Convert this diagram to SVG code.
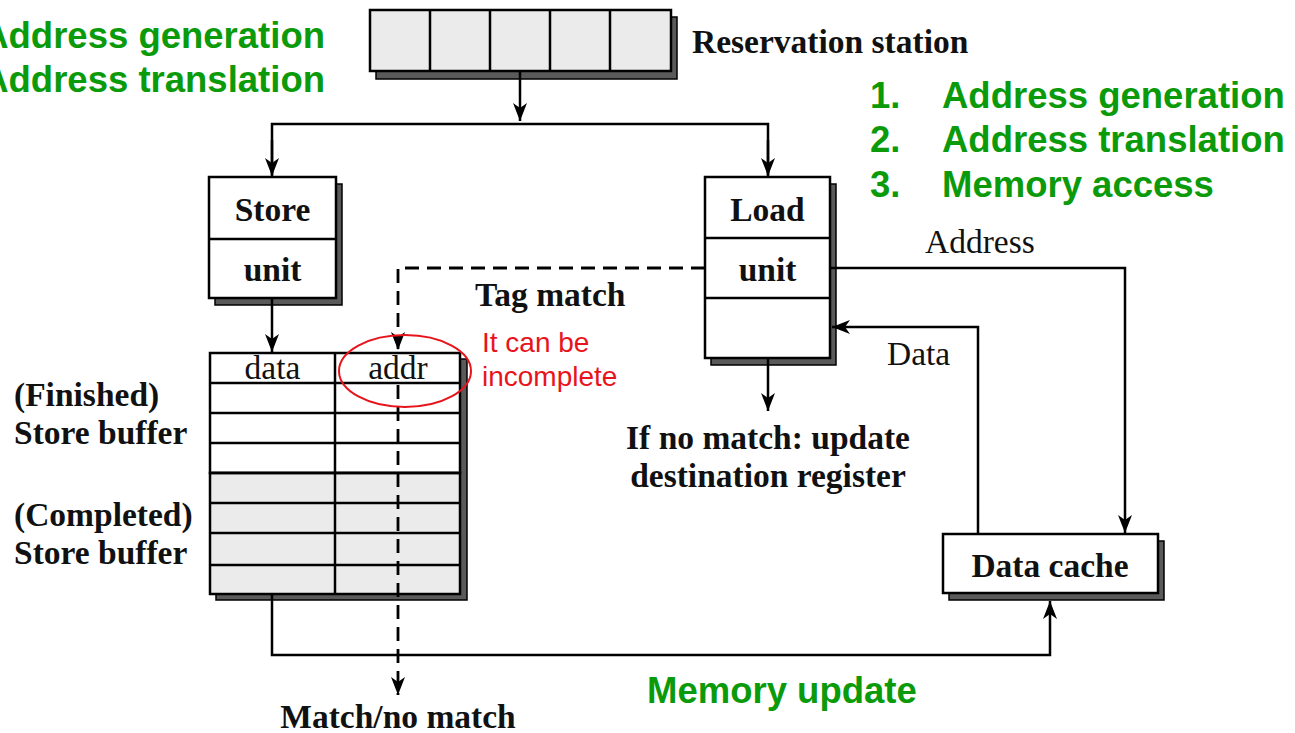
<svg xmlns="http://www.w3.org/2000/svg" width="1295" height="733" viewBox="0 0 1295 733">
<defs>
<marker id="ah" viewBox="0 0 18 14" markerUnits="userSpaceOnUse" markerWidth="18" markerHeight="14" refX="18" refY="7" orient="auto">
<path d="M0,0 L18,7 L0,14 L5,7 z" fill="#000"/>
</marker>
</defs>
<style>
.box{fill:#fff;stroke:#000;stroke-width:2.5}
.gbox{fill:#ebebeb;stroke:#000;stroke-width:2.5}
.sh{fill:#5a5a5a;stroke:#000;stroke-width:1.5}
.ln{fill:none;stroke:#000;stroke-width:2.5}
.dl{fill:none;stroke:#000;stroke-width:2.8;stroke-dasharray:14 8}
.sb{font-family:"Liberation Serif",serif;font-weight:bold;font-size:33.5px;fill:#111}
.sr{font-family:"Liberation Serif",serif;font-size:33.5px;fill:#111}
.gr{font-family:"Liberation Sans",sans-serif;font-weight:bold;font-size:36.5px;fill:#0a9a0a}
.rd{font-family:"Liberation Sans",sans-serif;font-size:28px;fill:#e8141c}
</style>

<g id="reservation-station">
<rect class="sh" x="376" y="17" width="301" height="62"/>
<rect class="gbox" x="370" y="10" width="301" height="61"/>
<line class="ln" x1="430" y1="10" x2="430" y2="71"/>
<line class="ln" x1="490" y1="10" x2="490" y2="71"/>
<line class="ln" x1="550" y1="10" x2="550" y2="71"/>
<line class="ln" x1="610" y1="10" x2="610" y2="71"/>
<text class="sb" x="692" y="53">Reservation station</text>
</g>

<g id="store-unit">
<rect class="sh" x="215" y="184" width="127" height="121"/>
<rect class="box" x="209" y="177" width="127" height="121"/>
<line class="ln" x1="209" y1="239" x2="336" y2="239"/>
<text class="sb" x="272.5" y="221" text-anchor="middle">Store</text>
<text class="sb" x="272.5" y="281" text-anchor="middle">unit</text>
</g>

<g id="load-unit">
<rect class="sh" x="711" y="184" width="125" height="181"/>
<rect class="box" x="705" y="177" width="125" height="181"/>
<line class="ln" x1="705" y1="238" x2="830" y2="238"/>
<line class="ln" x1="705" y1="298" x2="830" y2="298"/>
<text class="sb" x="767.5" y="221" text-anchor="middle">Load</text>
<text class="sb" x="767.5" y="281" text-anchor="middle">unit</text>
</g>

<g id="store-buffer">
<rect class="sh" x="216" y="359" width="251" height="241"/>
<rect class="box" x="210" y="353" width="250" height="120"/>
<rect class="gbox" x="210" y="473" width="250" height="121"/>
<line class="ln" x1="210" y1="383" x2="460" y2="383"/>
<line class="ln" x1="210" y1="413" x2="460" y2="413"/>
<line class="ln" x1="210" y1="443" x2="460" y2="443"/>
<line class="ln" x1="210" y1="473" x2="460" y2="473"/>
<line class="ln" x1="210" y1="503" x2="460" y2="503"/>
<line class="ln" x1="210" y1="533" x2="460" y2="533"/>
<line class="ln" x1="210" y1="565" x2="460" y2="565"/>
<line class="ln" x1="335" y1="353" x2="335" y2="594"/>
<text class="sr" x="272.5" y="379" text-anchor="middle">data</text>
<text class="sr" x="398" y="379" text-anchor="middle">addr</text>
<text class="sb" x="14" y="406">(Finished)</text>
<text class="sb" x="14" y="444">Store buffer</text>
<text class="sb" x="14" y="526">(Completed)</text>
<text class="sb" x="14" y="564">Store buffer</text>
</g>

<g id="data-cache">
<rect class="sh" x="949" y="541" width="215" height="59"/>
<rect class="box" x="943" y="534" width="215" height="59"/>
<text class="sb" x="1050" y="577" text-anchor="middle">Data cache</text>
</g>

<g id="connectors">
<line class="ln" x1="520" y1="71" x2="520" y2="121" marker-end="url(#ah)"/>
<path class="ln" d="M272,175 V124 H768 V175" />
<line class="ln" x1="272" y1="140" x2="272" y2="176" marker-end="url(#ah)"/>
<line class="ln" x1="768" y1="140" x2="768" y2="176" marker-end="url(#ah)"/>
<line class="ln" x1="272" y1="298" x2="272" y2="352" marker-end="url(#ah)"/>
<line class="ln" x1="768" y1="358" x2="768" y2="411" marker-end="url(#ah)"/>
<path class="dl" d="M705,268 H398 V350" marker-end="url(#ah)"/>
<path class="dl" d="M398,385 V695" marker-end="url(#ah)"/>
<path class="ln" d="M830,268 H1125 V533" marker-end="url(#ah)"/>
<path class="ln" d="M978,534 V327 H832" marker-end="url(#ah)"/>
<path class="ln" d="M272,594 V655 H1050 V601" marker-end="url(#ah)"/>
<text class="sb" x="475" y="306">Tag match</text>
<text class="sr" x="925" y="253">Address</text>
<text class="sr" x="887" y="365">Data</text>
<text class="sb" x="768" y="449" text-anchor="middle">If no match: update</text>
<text class="sb" x="768" y="487" text-anchor="middle">destination register</text>
<text class="sb" x="398" y="728" text-anchor="middle">Match/no match</text>
</g>

<g id="annotations">
<ellipse cx="405" cy="371" rx="66" ry="36" fill="none" stroke="#e8141c" stroke-width="2"/>
<text class="rd" x="482" y="352">It can be</text>
<text class="rd" x="482" y="386">incomplete</text>
<text class="gr" x="325" y="48" text-anchor="end">Address generation</text>
<text class="gr" x="325" y="92" text-anchor="end">Address translation</text>
<text class="gr" x="870" y="108">1.</text>
<text class="gr" x="942" y="108">Address generation</text>
<text class="gr" x="870" y="152">2.</text>
<text class="gr" x="942" y="152">Address translation</text>
<text class="gr" x="870" y="197">3.</text>
<text class="gr" x="942" y="197">Memory access</text>
<text class="gr" x="647" y="703">Memory update</text>
</g>
</svg>
